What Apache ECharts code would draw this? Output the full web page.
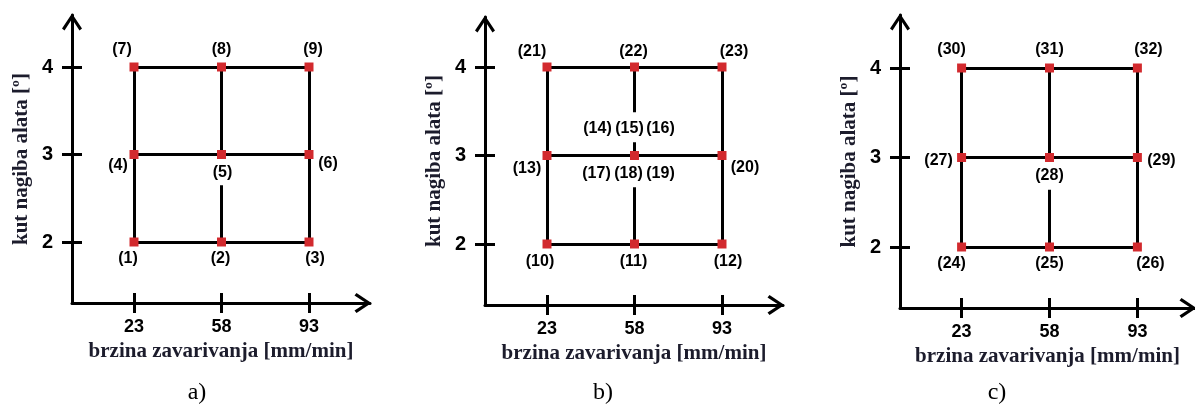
<!DOCTYPE html>
<html><head><meta charset="utf-8">
<script src="https://cdn.jsdelivr.net/npm/echarts@6/dist/echarts.min.js"></script>
<style>html,body{margin:0;padding:0;background:#fff}#c{width:1195px;height:405px}</style>
</head><body><div id="c"></div>
<script>
// ---- data ----
const xTicks = [23, 58, 93];
const yTicks = [2, 3, 4];
const xAxisName = 'brzina zavarivanja [mm/min]';
const yAxisName = 'kut nagiba alata [º]';
const panelLetters = ['a)', 'b)', 'c)'];

const runsA  = [1, 2, 3, 4, 5, 6, 7, 8, 9];
const speedA = [23, 58, 93, 23, 58, 93, 23, 58, 93];
const angleA = [2, 2, 2, 3, 3, 3, 4, 4, 4];

const runsB  = [10, 11, 12, 13, 14, 15, 16, 17, 18, 19, 20, 21, 22, 23];
const speedB = [23, 58, 93, 23, 58, 58, 58, 58, 58, 58, 93, 23, 58, 93];
const angleB = [2, 2, 2, 3, 3, 3, 3, 3, 3, 3, 3, 4, 4, 4];

const runsC  = [24, 25, 26, 27, 28, 29, 30, 31, 32];
const speedC = [23, 58, 93, 23, 58, 93, 23, 58, 93];
const angleC = [2, 2, 2, 3, 3, 3, 4, 4, 4];

// design-grid segments [x1, y1, x2, y2]
const segmentsA = [[23,2,93,2],[23,3,93,3],[23,4,93,4],[23,2,23,4],[93,2,93,4],[58,3,58,4],[58,2,58,2.65]];
const segmentsB = [[23,2,93,2],[23,3,93,3],[23,4,93,4],[23,2,23,4],[93,2,93,4],[58,3.49,58,4],[58,3,58,3.15],[58,2,58,2.64]];
const segmentsC = [[23,2,93,2],[23,3,93,3],[23,4,93,4],[23,2,23,4],[93,2,93,4],[58,3,58,4],[58,2,58,2.64]];

// ---- style / layout ----
const labelOffsets = {
  1:[-6,17], 2:[-1,17], 3:[6,17], 4:[-16,11], 5:[1,18], 6:[19,9], 7:[-12,-17], 8:[0,-17], 9:[4,-17],
  10:[-7,18], 11:[-1,18], 12:[6,18], 13:[-20,13], 14:[-37,-27], 15:[-5,-27], 16:[26,-27],
  17:[-38,18], 18:[-6,18], 19:[26,18], 20:[23,12], 21:[-15,-15], 22:[-1,-15], 23:[12,-15],
  24:[-10,17], 25:[0,17], 26:[13,17], 27:[-23,3], 28:[0,18], 29:[24,3], 30:[-10,-18], 31:[0,-18], 32:[11,-18]
};
const layouts = [
  {axisX:72,  axisY:303, topY:15, rightX:370,  px23:134, px93:309,  py4:67, py2:242, letterX:197},
  {axisX:485, axisY:305, topY:17, rightX:783,  px23:547, px93:722,  py4:67, py2:244, letterX:603},
  {axisX:900, axisY:308, topY:15, rightX:1197, px23:962, px93:1139, py4:68, py2:247, letterX:997}
];
const panels = [
  {runs: runsA, speed: speedA, angle: angleA, segs: segmentsA},
  {runs: runsB, speed: speedB, angle: angleB, segs: segmentsB},
  {runs: runsC, speed: speedC, angle: angleC, segs: segmentsC}
];

const arrowPath = 'path://M0,15 L10,0 L20,15 L17.5,17 L10,5.5 L2.5,17 Z';
const sansBold = {fontFamily: '"Liberation Sans", Arial, sans-serif', fontWeight: 'bold', color: '#000'};
const serifName = {fontFamily: '"Liberation Serif", "Times New Roman", serif', fontWeight: 'bold', fontSize: 21, color: '#1c1c2c'};

const grid = [], xAxis = [], yAxis = [], series = [], graphic = [];
layouts.forEach((L, i) => {
  const xs = (L.px93 - L.px23) / (93 - 23);
  const ys = (L.py2 - L.py4) / (4 - 2);
  const xmin = 23 - (L.px23 - L.axisX) / xs;
  const xmax = 93 + (L.rightX - L.px93) / xs;
  const ymin = 2 - (L.axisY - L.py2) / ys;
  const ymax = 4 + (L.py4 - L.topY) / ys;
  grid.push({left: L.axisX, top: L.topY, width: L.rightX - L.axisX, height: L.axisY - L.topY, containLabel: false});
  const lineStyle = {color: '#000', width: 3};
  xAxis.push({
    type: 'value', gridIndex: i, position: 'bottom', min: xmin, max: xmax,
    axisLine: {onZero: false, lineStyle, symbol: ['none', arrowPath], symbolSize: [20, 17], symbolOffset: [0, -7]},
    axisTick: {show: true, length: 10, lineStyle, customValues: xTicks},
    axisLabel: Object.assign({fontSize: 18, margin: 15, customValues: xTicks}, sansBold),
    splitLine: {show: false},
    name: xAxisName, nameLocation: 'middle', nameGap: 37, nameTextStyle: serifName
  });
  xAxis.push({
    type: 'value', gridIndex: i, position: 'bottom', min: xmin, max: xmax,
    axisLine: {show: false, onZero: false},
    axisTick: {show: true, inside: true, length: 10, lineStyle, customValues: xTicks},
    axisLabel: {show: false}, splitLine: {show: false}
  });
  yAxis.push({
    type: 'value', gridIndex: i, position: 'left', min: ymin, max: ymax,
    axisLine: {onZero: false, lineStyle, symbol: ['none', arrowPath], symbolSize: [20, 17], symbolOffset: [0, -7]},
    axisTick: {show: true, length: 10, lineStyle, customValues: yTicks},
    axisLabel: Object.assign({fontSize: 20, margin: 19, customValues: yTicks}, sansBold),
    splitLine: {show: false},
    name: yAxisName, nameLocation: 'middle', nameGap: 40, nameTextStyle: serifName
  });
  yAxis.push({
    type: 'value', gridIndex: i, position: 'left', min: ymin, max: ymax,
    axisLine: {show: false, onZero: false},
    axisTick: {show: true, inside: true, length: 10, lineStyle, customValues: yTicks},
    axisLabel: {show: false}, splitLine: {show: false}
  });
  const P = panels[i];
  series.push({
    type: 'lines', coordinateSystem: 'cartesian2d', xAxisIndex: 2 * i, yAxisIndex: 2 * i,
    polyline: false, silent: true, z: 2,
    lineStyle: {color: '#000', width: 3, opacity: 1},
    data: P.segs.map(s => ({coords: [[s[0], s[1]], [s[2], s[3]]]}))
  });
  series.push({
    type: 'scatter', xAxisIndex: 2 * i, yAxisIndex: 2 * i, z: 3,
    symbol: 'rect', symbolSize: 9,
    itemStyle: {color: '#d22a2e', opacity: 1},
    label: {show: true, position: 'inside', fontSize: 16, fontFamily: '"Liberation Sans", Arial, sans-serif', fontWeight: 'bold', color: '#000',
      formatter: p => '(' + p.data.run + ')'},
    data: P.runs.map((r, k) => ({value: [P.speed[k], P.angle[k]], run: r, label: {offset: labelOffsets[r]}}))
  });
  graphic.push({
    type: 'text', x: L.letterX, y: 393, silent: true,
    style: {text: panelLetters[i], fontSize: 24, fontFamily: '"Liberation Serif", "Times New Roman", serif', fill: '#000', align: 'center', verticalAlign: 'middle'}
  });
});

const chart = echarts.init(document.getElementById('c'), null, {renderer: 'canvas'});
chart.setOption({animation: false, backgroundColor: '#fff', grid, xAxis, yAxis, series, graphic});
</script>
</body></html>
